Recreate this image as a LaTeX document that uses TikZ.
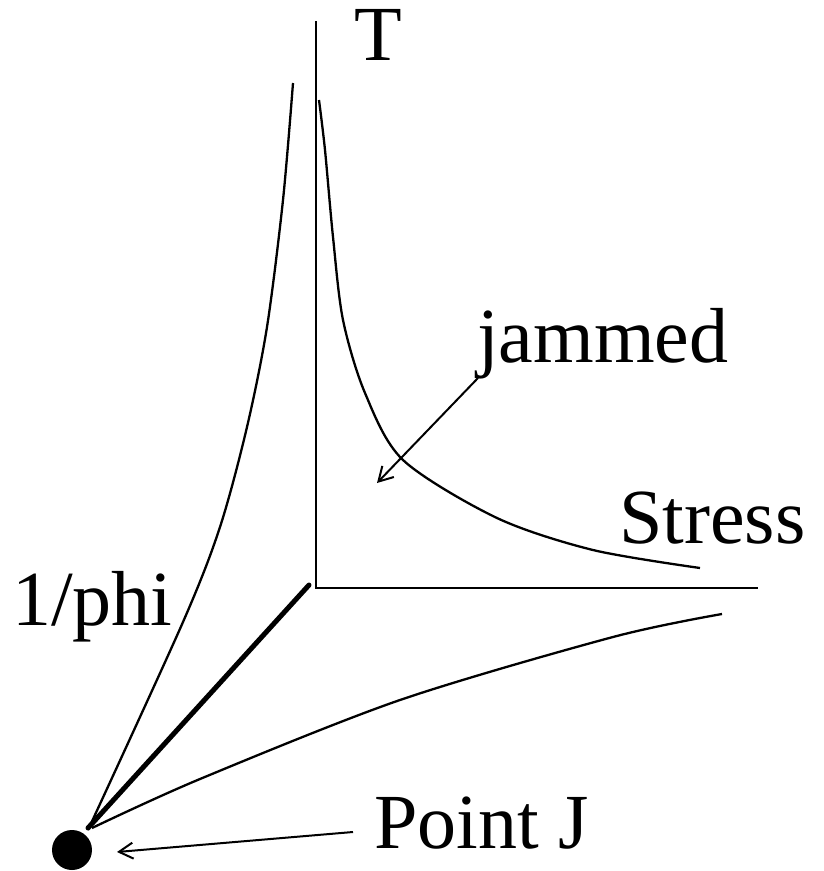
\documentclass[tikz,border=0pt]{standalone}
\usepackage{fontspec}
\setmainfont{Liberation Serif}
\usetikzlibrary{arrows.meta}
\begin{document}
\begin{tikzpicture}[x=1pt,y=-1pt,
  lbl/.style={anchor=base west,inner sep=0pt,font=\fontsize{78}{80}\selectfont},
  thin/.style={line width=2.3pt},
  axis/.style={line width=2.8pt},
  thickaxis/.style={line width=5pt,line cap=round},
  ptr/.style={line width=2pt,-{Straight Barb[length=14pt,width=16pt,line width=2pt]}}]
\useasboundingbox (0,0) rectangle (824,871);
\coordinate (O) at (316,588);
\coordinate (Ttop) at (316,21);
\coordinate (Send) at (758,588);
\coordinate (Pstart) at (309,585);
\coordinate (Pend) at (88,828);
\node[circle,fill=black,minimum size=40pt,inner sep=0pt] (J) at (72,850) {};
% axes
\draw[axis] (Ttop) -- (O) -- (Send);
\draw[thickaxis] (Pstart) -- (Pend);
% curves
\draw[thin] plot[smooth,tension=0.5] coordinates {(88,830) (183,622) (220,527) (247,427) (267,327) (283,200) (293,83)};
\draw[thin] plot[smooth,tension=0.5] coordinates {(92,828) (200,779) (400,700) (613,637) (722,614)};
\draw[thin] plot[smooth,tension=0.5] coordinates {(319,100) (325,150) (333,237) (343,320) (365,393) (403,460) (497,518) (593,550) (700,568)};
% labels
\node[lbl] (tT) at (354,60) {T};
\node[lbl] (tjam) at (477,362) {jammed};
\node[lbl] (tS) at (619,543) {Stress};
\node[lbl] (tphi) at (12,625) {1/phi};
\node[lbl] (tJ) at (374,848) {Point J};
\coordinate (jamfrom) at (478,378);
\coordinate (jamto) at (377,483);
\coordinate (jfrom) at (353,832);
\coordinate (jto) at (117,852);
\draw[ptr] (jamfrom) -- (jamto);
\draw[ptr] (jfrom) -- (jto);
\end{tikzpicture}
\end{document}
